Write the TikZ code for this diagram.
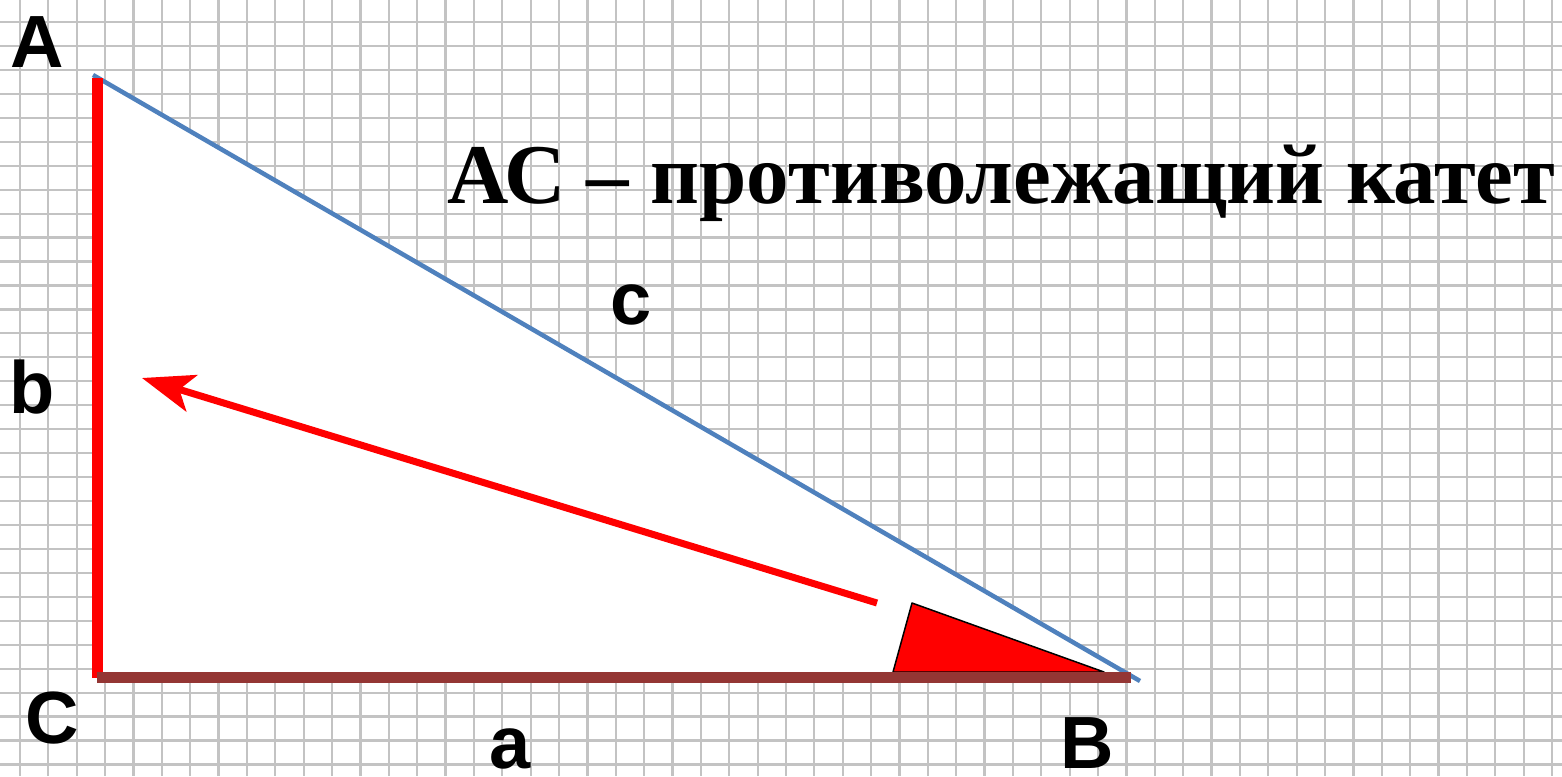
\documentclass[tikz,border=0pt]{standalone}
\usepackage{fontspec}
\setmainfont{Liberation Serif}
\newfontfamily\labfont{Liberation Sans}
\usetikzlibrary{arrows.meta}
\definecolor{gridgray}{RGB}{195,195,195}
\definecolor{hypblue}{RGB}{79,129,189}
\definecolor{legbrown}{RGB}{148,54,52}
\definecolor{angred}{RGB}{255,0,0}
\tikzset{
  gridline/.style={gridgray, line width=2.2pt},
  lbl/.style={inner sep=0pt, anchor=base, font=\labfont\bfseries\fontsize{74}{74}\selectfont},
  title/.style={inner sep=0pt, anchor=base west, font=\bfseries\fontsize{85}{85}\selectfont},
}
\begin{document}
\begin{tikzpicture}[x=1pt,y=-1pt]
\useasboundingbox (0,0) rectangle (1562,776);
\fill[white] (0,0) rectangle (1562,776);
% grid paper
\foreach \k in {0,...,54} {
  \draw[gridline] ({20+28.37*\k},0) -- ({20+28.37*\k},776);
}
\foreach \k in {0,...,31} {
  \draw[gridline] (0,{22+23.95*\k}) -- (1562,{22+23.95*\k});
}
% vertices
\coordinate (A) at (97,78);
\coordinate (C) at (97,677.5);
\coordinate (B) at (1131,677.5);
\coordinate (Ae) at (93,75);
\coordinate (Be) at (1140,681);
% white interior
\fill[white] (A) -- (C) -- (B) -- cycle;
% angle mark
\coordinate (P1) at (893,672);
\coordinate (P2) at (912,603);
\coordinate (P3) at (1104,672);
\filldraw[fill=angred, draw=black, line width=1.5pt, line join=round] (P1) -- (P2) -- (P3) -- cycle;
% arrow
\coordinate (S) at (877,603);
\coordinate (T) at (142,378);
\draw[angred, line width=7pt, -{Stealth[length=52pt,width=38pt,inset=13pt]}] (S) -- (T);
% sides
\draw[hypblue, line width=4.5pt] (Ae) -- (Be);
\draw[angred, line width=11pt] (A) -- (C);
\draw[legbrown, line width=11pt] (C) -- (B);
% labels
\node[lbl] (lA) at (37,67) {A};
\node[lbl] (lC) at (52,743) {C};
\node[lbl] (lB) at (1087,768) {B};
\node[lbl] (la) at (510,768) {a};
\node[lbl] (lb) at (32,413) {b};
\node[lbl] (lc) at (631,324) {c};
\node[title] (t) at (447,203) {АС – противолежащий катет};
\end{tikzpicture}
\end{document}
